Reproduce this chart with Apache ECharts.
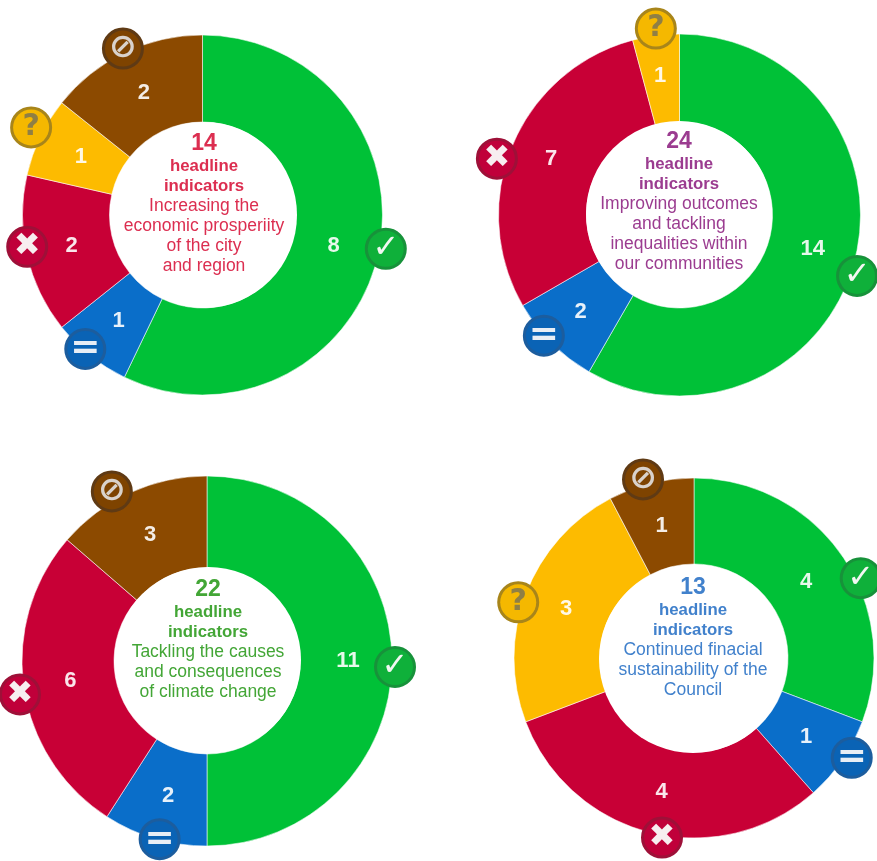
<!DOCTYPE html>
<html><head><meta charset="utf-8">
<style>html,body{margin:0;padding:0;background:#fff;overflow:hidden}#c{width:877px;height:861px}</style>
<script src="https://cdn.jsdelivr.net/npm/echarts@6/dist/echarts.min.js"></script>
</head><body><div id="c"></div>
<script>
const statuses = ['onTrack','level','offTrack','unknown','blocked'];
const colors = ['#00c137','#0a6ec9','#c80036','#fdbb00','#8c4a00'];
const iconBorders = ['#17923a','#1c5d9e','#9e1038','#a8851a','#5f3a14'];
const iconFill = ['#0fb03a','#0a63b5','#c0003a','#f5b800','#7e4300'];
const iconGlyphs = ['✓','=','✖','?','⊘'];
const iconSizes = [32,36,32,30,33];
const iconGlyphColors = ['#f2f7f2','#e8eef5','#f7eef0','#8f7f45','#d9d2cb'];

const values1 = [8,1,2,1,2];
const values2 = [14,2,7,1,0];
const values3 = [11,2,6,0,3];
const values4 = [4,1,4,3,1];

const totals = ['14','24','22','13'];
const captions1 = ['Increasing the','economic prosperiity','of the city','and region'];
const captions2 = ['Improving outcomes','and tackling','inequalities within','our communities'];
const captions3 = ['Tackling the causes','and consequences','of climate change'];
const captions4 = ['Continued finacial','sustainability of the','Council'];

/* hand-placed nudges: the reference does not centre its labels and badges exactly */
const iconNudge = [
  [[0,-8],[0,-13],[8,-10],[-2,-6],[2,3]],
  [[-5,12],[-2,-13],[-8,16],[1,1],[0,0]],
  [[-5,6],[7,-7],[4,6],[0,0],[-15,6]],
  [[12,27],[3,-7],[13,-3],[0,11],[-6,4]]
];
const labelNudge = [
  [[-5,0],[3,-3],[5,0],[4,2],[2,4]],
  [[-2,-2],[0,-2],[1,-2],[-1,0],[0,0]],
  [[-1,0],[1,-1],[4,0],[0,0],[2,3]],
  [[-3,3],[-3,-1],[1,-2],[3,1],[1,4]]
];

const layouts = [
  {c:[202.5,215],r:180,hole:93,tc:[204,215],top:145,col:'#dc2e50',cap:captions1,v:values1},
  {c:[679.5,215],r:181,hole:93,tc:[679,214],top:143,col:'#9b3c90',cap:captions2,v:values2},
  {c:[207,661],r:185,hole:93,tc:[208,660],top:591,col:'#43a636',cap:captions3,v:values3},
  {c:[694,658],r:180,hole:94,tc:[693,659],top:589,col:'#4181cc',cap:captions4,v:values4}
];

const series = [], graphic = [];
layouts.forEach((L,i)=>{
  const data = L.v.map((v,k)=>({value:v,name:statuses[k],k})).filter(d=>d.value>0);
  series.push({
    type:'pie',center:L.c,radius:[L.hole,L.r],startAngle:90,clockwise:true,silent:true,
    animation:false,avoidLabelOverlap:false,labelLine:{show:false},minAngle:0,
    data:data.map(d=>({value:d.value,name:d.name,itemStyle:{color:colors[d.k]},
      label:{offset:labelNudge[i][d.k]}})),
    itemStyle:{borderColor:'rgba(255,255,255,0.55)',borderWidth:1},
    label:{show:true,position:'inside',formatter:'{c}',color:'rgba(255,255,255,0.9)',
      fontFamily:'"Liberation Sans"',fontWeight:'bold',fontSize:22}
  });
  series.push({
    type:'pie',center:L.c,radius:[L.r+4,L.r+6],startAngle:90,clockwise:true,silent:true,z:5,
    animation:false,avoidLabelOverlap:false,labelLine:{show:false},
    data:data.map(d=>({value:d.value,name:d.name,itemStyle:{color:'transparent'},
      label:{formatter:iconGlyphs[d.k],color:iconGlyphColors[d.k],backgroundColor:iconFill[d.k],
        borderColor:iconBorders[d.k],fontSize:iconSizes[d.k],offset:iconNudge[i][d.k]}})),
    itemStyle:{borderWidth:0},
    label:{show:true,position:'inside',width:36,height:36,lineHeight:36,align:'center',verticalAlign:'middle',
      borderWidth:3,borderRadius:20,fontFamily:'"DejaVu Sans"',fontWeight:'bold'}
  });
  graphic.push({type:'circle',shape:{cx:L.tc[0],cy:L.tc[1],r:L.hole},style:{fill:'#fff'},z:3});
  const x=L.tc[0];
  const line=(t,y,size,bold)=>graphic.push({type:'text',x,y,z:4,style:{text:t,fill:L.col,
     fontFamily:'"Liberation Sans"',fontSize:size,fontWeight:bold?'bold':'normal',align:'center',verticalAlign:'middle'}});
  line(totals[i],L.top-1,23,true);
  line('headline',L.top+21,16.8,true);
  line('indicators',L.top+41,16.8,true);
  L.cap.forEach((t,k)=>line(t,L.top+61+k*20,17.5,false));
});
const chart = echarts.init(document.getElementById('c'),null,{renderer:'canvas'});
chart.setOption({animation:false,backgroundColor:'#fff',series,graphic});
</script></body></html>
